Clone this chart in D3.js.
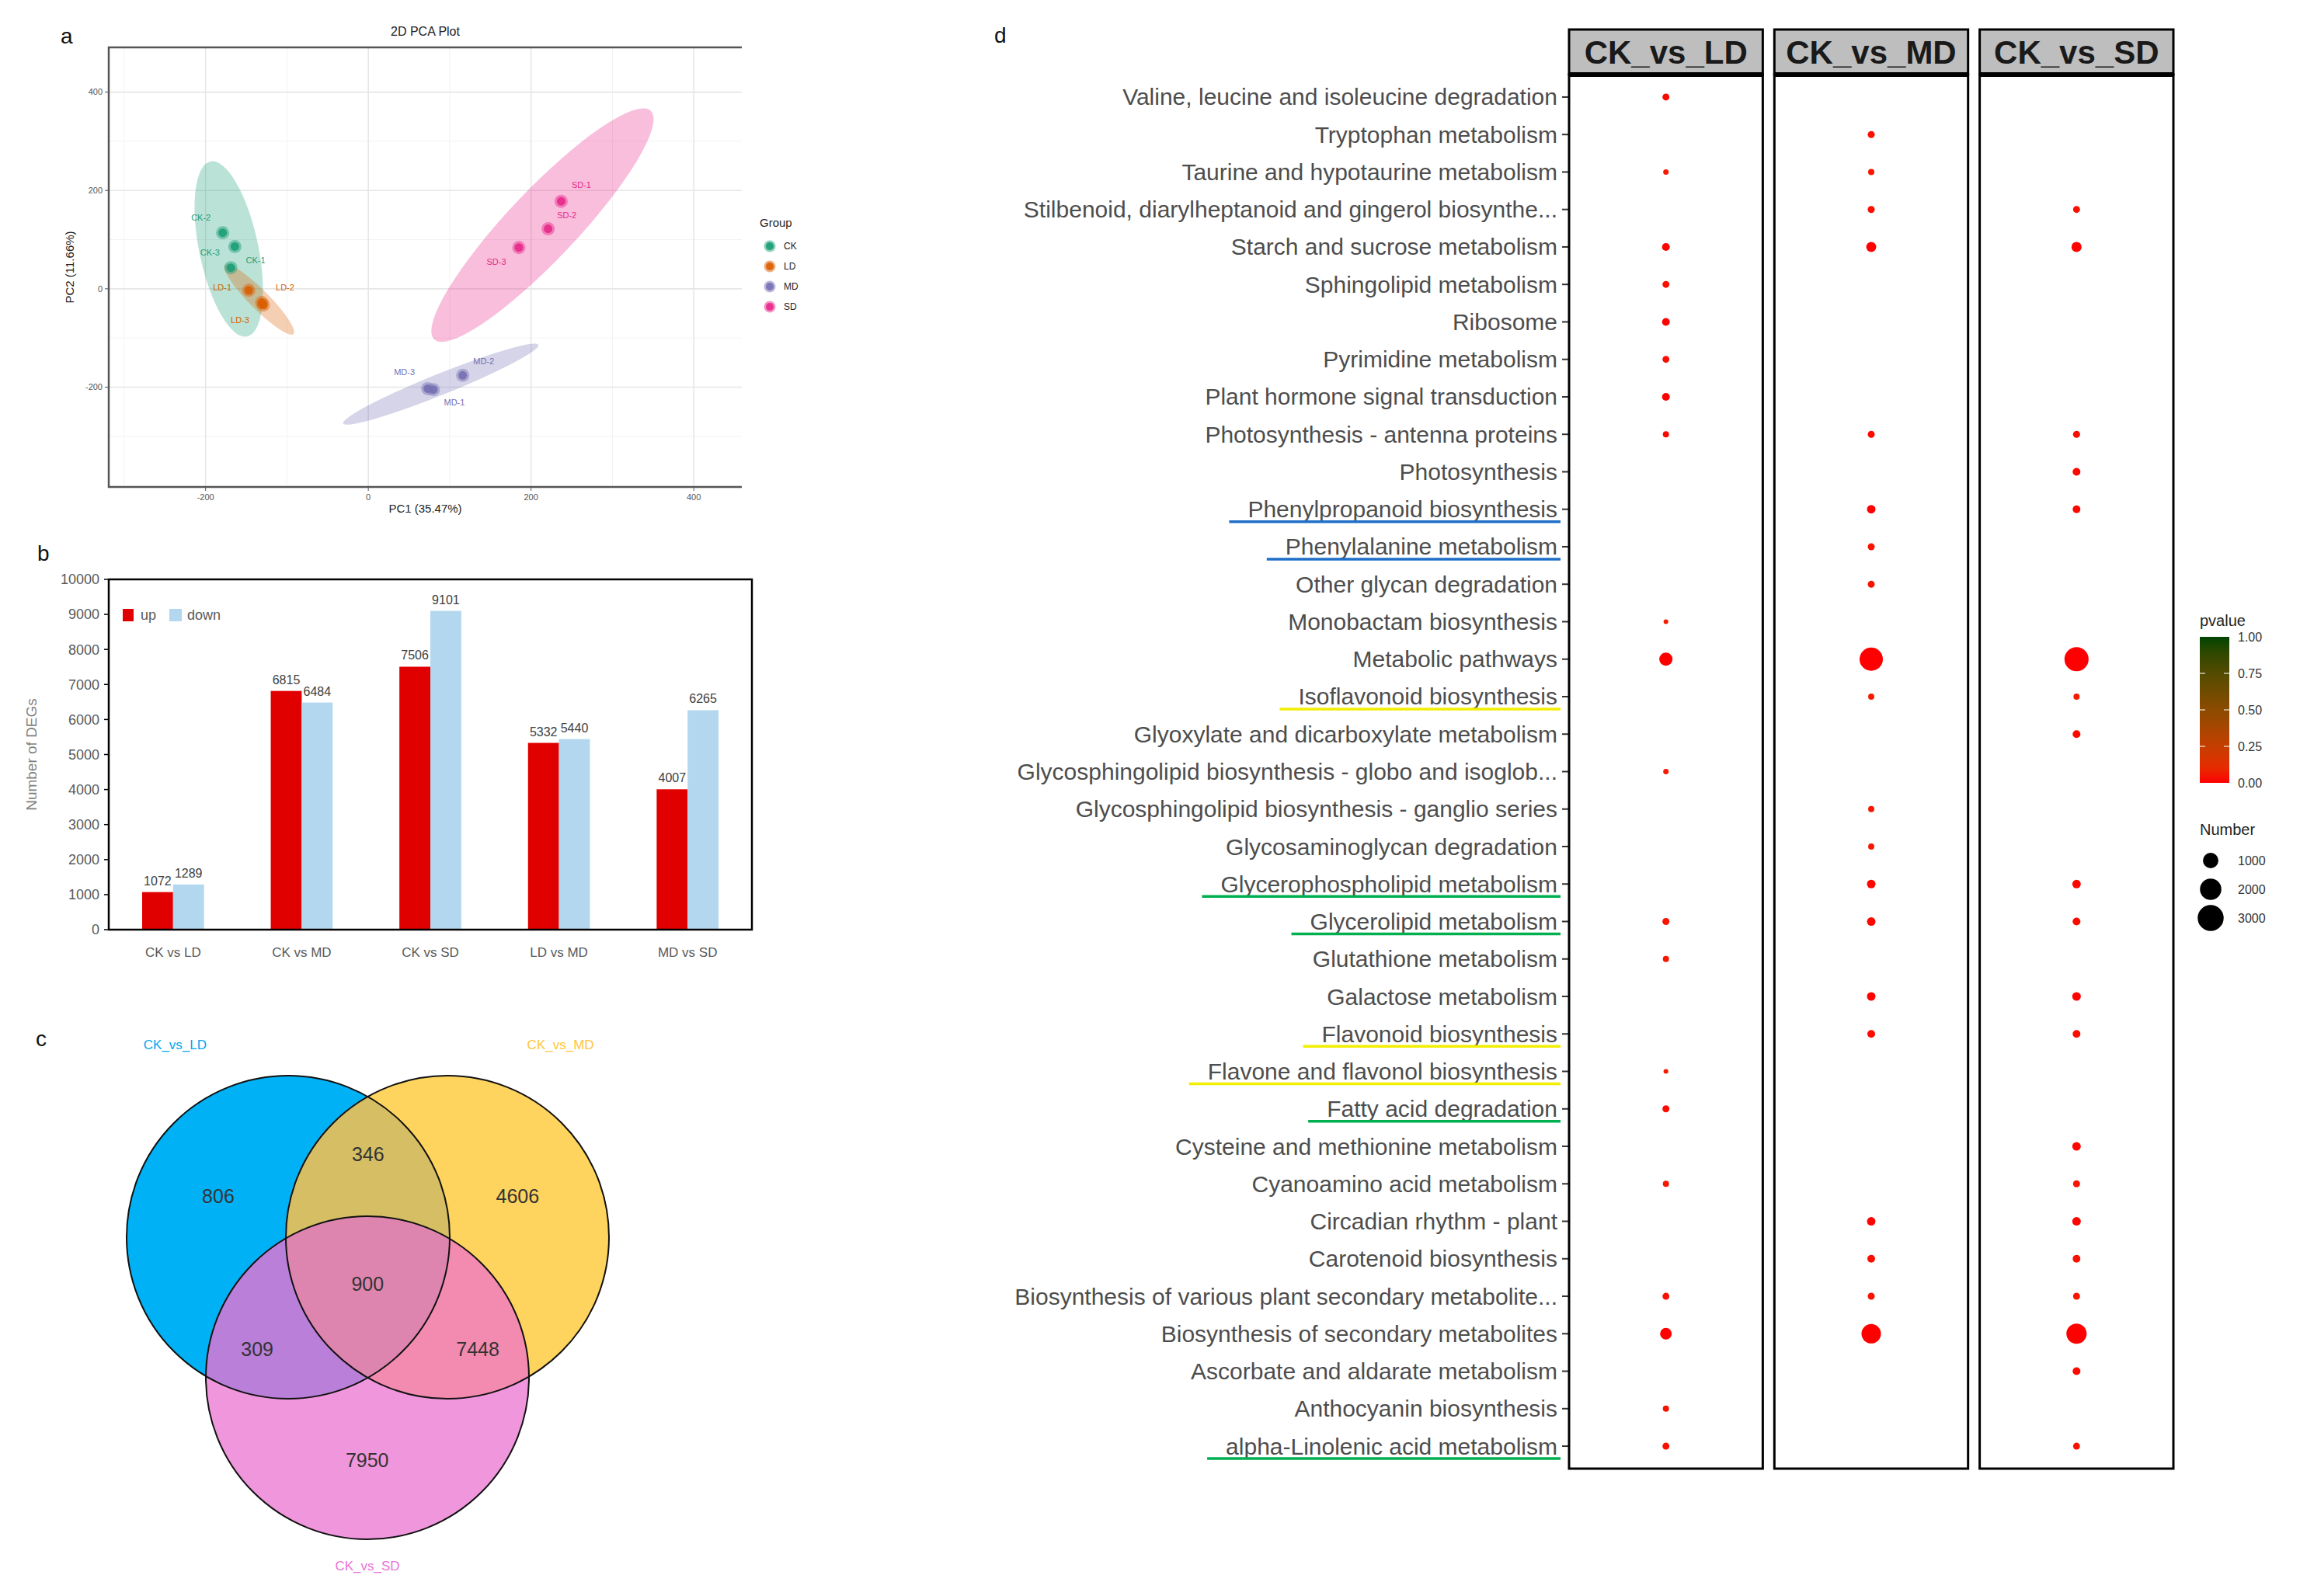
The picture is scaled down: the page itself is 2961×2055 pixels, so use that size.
<!DOCTYPE html>
<html><head><meta charset="utf-8">
<script src="https://cdn.jsdelivr.net/npm/d3@7/dist/d3.min.js"></script>
<style>
body{margin:0;background:#fff}
svg{display:block}
text{font-family:"Liberation Sans",Arial,sans-serif}
</style>
</head><body>
<svg id="chart" width="2961" height="2055"></svg>
<script>
// ================= DATA =================
// Panel a : PCA
const pcaGroups = ["CK", "LD", "MD", "SD"];
const pcaSamples = ["CK-2","CK-3","CK-1","LD-1","LD-2","LD-3","MD-3","MD-1","MD-2","SD-1","SD-2","SD-3"];
const pcaSampleGroup = ["CK","CK","CK","LD","LD","LD","MD","MD","MD","SD","SD","SD"];
const pc1 = [-179, -164, -169, -147, -131, -129, 73, 80, 116, 237, 221, 185];
const pc2 = [114, 86, 43, -3, -28, -33, -203, -205, -176, 178, 122, 84];
// confidence ellipses: major axis end points (data units) and minor/major ratio
const ellStartX = [-194, -176, -31, 81];
const ellStartY = [259, 48, -274, -103];
const ellEndX = [-149, -92, 209, 347];
const ellEndY = [-97, -92, -114, 362];
const ellRatio = [0.33, 0.2, 0.1, 0.22];
const pcaTicks = [-200, 0, 200, 400];
const pcaMinor = [-300, -100, 100, 300];

// Panel b : DEG numbers
const degCategories = ["CK vs LD", "CK vs MD", "CK vs SD", "LD vs MD", "MD vs SD"];
const degUp = [1072, 6815, 7506, 5332, 4007];
const degDown = [1289, 6484, 9101, 5440, 6265];
const degTicks = [0,1000,2000,3000,4000,5000,6000,7000,8000,9000,10000];

// Panel c : Venn
const vennSets = ["CK_vs_LD", "CK_vs_MD", "CK_vs_SD"];
const vennRegions = ["A", "B", "C", "AB", "AC", "BC", "ABC"];
const vennCounts = [806, 4606, 7950, 346, 309, 7448, 900];

// Panel d : KEGG enrichment bubble chart
const comparisons = ["CK_vs_LD", "CK_vs_MD", "CK_vs_SD"];
const keggTerms = [
  "Valine, leucine and isoleucine degradation",
  "Tryptophan metabolism",
  "Taurine and hypotaurine metabolism",
  "Stilbenoid, diarylheptanoid and gingerol biosynthe...",
  "Starch and sucrose metabolism",
  "Sphingolipid metabolism",
  "Ribosome",
  "Pyrimidine metabolism",
  "Plant hormone signal transduction",
  "Photosynthesis - antenna proteins",
  "Photosynthesis",
  "Phenylpropanoid biosynthesis",
  "Phenylalanine metabolism",
  "Other glycan degradation",
  "Monobactam biosynthesis",
  "Metabolic pathways",
  "Isoflavonoid biosynthesis",
  "Glyoxylate and dicarboxylate metabolism",
  "Glycosphingolipid biosynthesis - globo and isoglob...",
  "Glycosphingolipid biosynthesis - ganglio series",
  "Glycosaminoglycan degradation",
  "Glycerophospholipid metabolism",
  "Glycerolipid metabolism",
  "Glutathione metabolism",
  "Galactose metabolism",
  "Flavonoid biosynthesis",
  "Flavone and flavonol biosynthesis",
  "Fatty acid degradation",
  "Cysteine and methionine metabolism",
  "Cyanoamino acid metabolism",
  "Circadian rhythm - plant",
  "Carotenoid biosynthesis",
  "Biosynthesis of various plant secondary metabolite...",
  "Biosynthesis of secondary metabolites",
  "Ascorbate and aldarate metabolism",
  "Anthocyanin biosynthesis",
  "alpha-Linolenic acid metabolism"
];
// gene numbers per comparison (null = not enriched)
const numLD = [131,null,48,null,192,128,181,126,188,84,null,null,null,null,12,712,null,null,45,null,null,null,138,86,null,null,14,133,null,85,null,null,129,534,null,88,131];
const numMD = [null,136,88,139,372,null,null,null,null,131,null,241,132,129,null,2390,84,null,null,86,83,248,243,null,246,187,null,null,null,null,238,183,137,1640,null,null,null];
const numSD = [null,null,null,131,382,null,null,null,null,136,186,184,null,null,null,2570,82,189,null,null,null,241,188,null,251,182,null,null,244,133,247,181,132,1782,188,null,128];
const pLD = [0.012,null,0.041,null,0.003,0.021,0.002,0.018,0.001,0.009,null,null,null,null,0.046,0.000,null,null,0.038,null,null,null,0.027,0.033,null,null,0.044,0.015,null,0.036,null,null,0.024,0.000,null,0.031,0.019];
const pMD = [null,0.022,0.031,0.017,0.001,null,null,null,null,0.011,null,0.002,0.026,0.029,null,0.000,0.043,null,null,0.037,0.035,0.006,0.008,null,0.004,0.013,null,null,null,null,0.005,0.016,0.028,0.000,null,null,null];
const pSD = [null,null,null,0.019,0.001,null,null,null,null,0.014,0.007,0.009,null,null,null,0.000,0.042,0.010,null,null,null,0.006,0.012,null,0.003,0.018,null,null,0.008,0.027,0.005,0.020,0.030,0.000,0.011,null,0.025];
const numberLegend = [1000, 2000, 3000];
const pvalueTicks = [0, 0.25, 0.5, 0.75, 1];
// hand-drawn underline annotations
const markedTerms = ["Phenylpropanoid biosynthesis","Phenylalanine metabolism","Isoflavonoid biosynthesis",
  "Glycerophospholipid metabolism","Glycerolipid metabolism","Flavonoid biosynthesis",
  "Flavone and flavonol biosynthesis","Fatty acid degradation","alpha-Linolenic acid metabolism"];
const markedClass = ["phenyl","phenyl","flav","lipid","lipid","flav","flav","lipid","lipid"];

// ================= DRAW =================
const svg = d3.select("#chart");
svg.append("rect").attr("width",2961).attr("height",2055).attr("fill","#fff");
const defs = svg.append("defs");

function panelLetter(t, x, y){
  svg.append("text").attr("x",x).attr("y",y).attr("font-size",28).attr("fill","#111").text(t);
}

// ---------- Panel a ----------
(function(){
  const L=140,R=955,T=61,B=627;
  const x = d3.scaleLinear().domain([-319,459]).range([L,R]);
  const y = d3.scaleLinear().domain([-403,491]).range([B,T]);
  const col = d3.scaleOrdinal().domain(pcaGroups).range(["#1B9E77","#D95F02","#7570B3","#E7298A"]);
  const g = svg.append("g");
  panelLetter("a", 78, 56);
  pcaMinor.forEach(v=>{
    g.append("line").attr("x1",x(v)).attr("x2",x(v)).attr("y1",T).attr("y2",B).attr("stroke","#f3f3f3").attr("stroke-width",1);
    g.append("line").attr("x1",L).attr("x2",R).attr("y1",y(v)).attr("y2",y(v)).attr("stroke","#f3f3f3").attr("stroke-width",1);
  });
  pcaTicks.forEach(v=>{
    g.append("line").attr("x1",x(v)).attr("x2",x(v)).attr("y1",T).attr("y2",B).attr("stroke","#e6e6e6").attr("stroke-width",1.6);
    g.append("line").attr("x1",L).attr("x2",R).attr("y1",y(v)).attr("y2",y(v)).attr("stroke","#e6e6e6").attr("stroke-width",1.6);
  });
  pcaGroups.forEach((gr,i)=>{
    const x1=x(ellStartX[i]), y1=y(ellStartY[i]), x2=x(ellEndX[i]), y2=y(ellEndY[i]);
    const cx=(x1+x2)/2, cy=(y1+y2)/2;
    const a=Math.hypot(x2-x1,y2-y1)/2, b=a*ellRatio[i];
    const ang=Math.atan2(y2-y1,x2-x1)*180/Math.PI;
    g.append("ellipse").attr("cx",0).attr("cy",0).attr("rx",a).attr("ry",b)
      .attr("transform",`translate(${cx},${cy}) rotate(${ang})`)
      .attr("fill",col(gr)).attr("fill-opacity",0.3);
  });
  g.append("path").attr("d",`M${R},${T}H${L}V${B}H${R}`).attr("fill","none").attr("stroke","#555").attr("stroke-width",2.5);
  pcaTicks.forEach(v=>{
    g.append("line").attr("x1",x(v)).attr("x2",x(v)).attr("y1",B).attr("y2",B+5).attr("stroke","#555");
    g.append("text").attr("x",x(v)).attr("y",B+17).attr("text-anchor","middle").attr("font-size",11).attr("fill","#555").text(v);
    g.append("line").attr("x1",L-5).attr("x2",L).attr("y1",y(v)).attr("y2",y(v)).attr("stroke","#555");
    g.append("text").attr("x",L-8).attr("y",y(v)).attr("dy","0.35em").attr("text-anchor","end").attr("font-size",11).attr("fill","#555").text(v);
  });
  const nudge = {"CK-2":[-28,-20],"CK-3":[-32,8],"CK-1":[32,-9],"LD-1":[-34,-4],"LD-2":[30,-19],"LD-3":[-30,19],
                 "MD-3":[-30,-21],"MD-1":[27,17],"MD-2":[27,-18],"SD-1":[26,-21],"SD-2":[24,-17],"SD-3":[-29,18]};
  pcaSamples.forEach((s,i)=>{
    const px=x(pc1[i]), py=y(pc2[i]), c=col(pcaSampleGroup[i]);
    g.append("circle").attr("cx",px).attr("cy",py).attr("r",8.5).attr("fill",c).attr("fill-opacity",0.45);
    g.append("circle").attr("cx",px).attr("cy",py).attr("r",5.5).attr("fill",c).attr("fill-opacity",0.9);
    const n=nudge[s];
    g.append("text").attr("x",px+n[0]).attr("y",py+n[1]).attr("dy","0.35em").attr("text-anchor","middle")
      .attr("font-size",11).attr("fill",c).text(s);
  });
  g.append("text").attr("x",(L+R)/2).attr("y",46).attr("text-anchor","middle").attr("font-size",16).attr("fill","#222").text("2D PCA Plot");
  g.append("text").attr("x",(L+R)/2).attr("y",660).attr("text-anchor","middle").attr("font-size",15).attr("fill","#222").text("PC1 (35.47%)");
  g.append("text").attr("transform",`translate(95,${(T+B)/2}) rotate(-90)`).attr("text-anchor","middle").attr("font-size",15).attr("fill","#222").text("PC2 (11.66%)");
  g.append("text").attr("x",978).attr("y",292).attr("font-size",15).attr("fill","#222").text("Group");
  pcaGroups.forEach((gr,i)=>{
    const ly=317+i*26;
    g.append("circle").attr("cx",991).attr("cy",ly).attr("r",7.5).attr("fill",col(gr)).attr("fill-opacity",0.5);
    g.append("circle").attr("cx",991).attr("cy",ly).attr("r",5).attr("fill",col(gr)).attr("fill-opacity",0.9);
    g.append("text").attr("x",1009).attr("y",ly).attr("dy","0.35em").attr("font-size",12).attr("fill","#222").text(gr);
  });
})();

// ---------- Panel b ----------
(function(){
  const L=140,R=968,T=746,B=1197;
  const g = svg.append("g");
  panelLetter("b", 48, 722);
  const x = d3.scaleBand().domain(degCategories).range([L,R]).paddingInner(0.519).paddingOuter(0.2595);
  const sub = d3.scaleBand().domain(["up","down"]).range([0,x.bandwidth()]);
  const y = d3.scaleLinear().domain([0,10000]).range([B,T]);
  const colors = {up:"#E00000", down:"#B3D7EE"};
  degCategories.forEach((c,i)=>{
    [["up",degUp[i]],["down",degDown[i]]].forEach(([k,v])=>{
      const bx = x(c)+sub(k);
      g.append("rect").attr("x",bx).attr("y",y(v)).attr("width",sub.bandwidth()).attr("height",B-y(v)).attr("fill",colors[k]);
      g.append("text").attr("x",bx+sub.bandwidth()/2).attr("y",y(v)-9).attr("text-anchor","middle")
        .attr("font-size",16).attr("fill","#404040").text(v);
    });
    g.append("text").attr("x",x(c)+x.bandwidth()/2).attr("y",1232).attr("text-anchor","middle").attr("font-size",17).attr("fill","#595959").text(c);
  });
  g.append("rect").attr("x",L).attr("y",T).attr("width",R-L).attr("height",B-T).attr("fill","none").attr("stroke","#000").attr("stroke-width",2.5);
  degTicks.forEach(v=>{
    g.append("line").attr("x1",L-6).attr("x2",L).attr("y1",y(v)).attr("y2",y(v)).attr("stroke","#000").attr("stroke-width",1.5);
    g.append("text").attr("x",L-12).attr("y",y(v)).attr("dy","0.35em").attr("text-anchor","end").attr("font-size",18).attr("fill","#595959").text(v);
  });
  g.append("text").attr("transform",`translate(47,${(T+B)/2}) rotate(-90)`).attr("text-anchor","middle").attr("font-size",19).attr("fill","#7f7f7f").text("Number of DEGs");
  g.append("rect").attr("x",158).attr("y",784).attr("width",14).attr("height",16).attr("fill",colors.up);
  g.append("text").attr("x",181).attr("y",792).attr("dy","0.35em").attr("font-size",18).attr("fill","#595959").text("up");
  g.append("rect").attr("x",218).attr("y",784).attr("width",16).attr("height",16).attr("fill",colors.down);
  g.append("text").attr("x",241).attr("y",792).attr("dy","0.35em").attr("font-size",18).attr("fill","#595959").text("down");
})();

// ---------- Panel c ----------
(function(){
  const g = svg.append("g");
  panelLetter("c", 46, 1347);
  const r = 208;
  const C = {A:[371,1593], B:[576,1593], C:[473,1774]};
  const setKeys = ["A","B","C"];
  const regionColor = {A:"#00B2F5", B:"#FED45F", C:"#F096DD", AB:"#D5BE63", AC:"#BA7FD9", BC:"#F38BB1", ABC:"#DE85AF"};
  setKeys.forEach(k=>{
    defs.append("clipPath").attr("id","clip"+k).append("circle").attr("cx",C[k][0]).attr("cy",C[k][1]).attr("r",r);
  });
  function mask(id, excl){
    const m = defs.append("mask").attr("id",id).attr("maskUnits","userSpaceOnUse").attr("x",0).attr("y",0).attr("width",2961).attr("height",2055);
    m.append("rect").attr("width",2961).attr("height",2055).attr("fill","#fff");
    excl.forEach(k=>m.append("circle").attr("cx",C[k][0]).attr("cy",C[k][1]).attr("r",r).attr("fill","#000"));
    return "url(#"+id+")";
  }
  const circ = (sel,k)=>sel.append("circle").attr("cx",C[k][0]).attr("cy",C[k][1]).attr("r",r);
  circ(g,"A").attr("fill",regionColor.A).attr("mask",mask("mNotBC",["B","C"]));
  circ(g,"B").attr("fill",regionColor.B).attr("mask",mask("mNotAC",["A","C"]));
  circ(g,"C").attr("fill",regionColor.C).attr("mask",mask("mNotAB",["A","B"]));
  const gAB = g.append("g").attr("mask",mask("mNotC",["C"]));
  circ(gAB,"A").attr("fill",regionColor.AB).attr("clip-path","url(#clipB)");
  const gAC = g.append("g").attr("mask",mask("mNotB",["B"]));
  circ(gAC,"A").attr("fill",regionColor.AC).attr("clip-path","url(#clipC)");
  const gBC = g.append("g").attr("mask",mask("mNotA",["A"]));
  circ(gBC,"B").attr("fill",regionColor.BC).attr("clip-path","url(#clipC)");
  const gABC = g.append("g").attr("clip-path","url(#clipC)");
  circ(gABC,"A").attr("fill",regionColor.ABC).attr("clip-path","url(#clipB)");
  setKeys.forEach(k=>circ(g,k).attr("fill","none").attr("stroke","#111").attr("stroke-width",2));
  const G = [(C.A[0]+C.B[0]+C.C[0])/3,(C.A[1]+C.B[1]+C.C[1])/3];
  vennRegions.forEach((reg,i)=>{
    const ks = reg.split("");
    const m = [d3.mean(ks,k=>C[k][0]), d3.mean(ks,k=>C[k][1])];
    const f = ks.length===1?1.88:(ks.length===2?2.77:0);
    const px = G[0]+f*(m[0]-G[0]), py = G[1]+f*(m[1]-G[1]);
    g.append("text").attr("x",px).attr("y",py).attr("dy","0.36em").attr("text-anchor","middle")
      .attr("font-size",25).attr("fill","#333").text(vennCounts[i]);
  });
  const nameColor = ["#00A8EE","#FFC53A","#E872D8"];
  g.append("text").attr("x",C.A[0]-0.7*r).attr("y",C.A[1]-r-40).attr("dy","0.35em").attr("text-anchor","middle").attr("font-size",17).attr("fill",nameColor[0]).text(vennSets[0]);
  g.append("text").attr("x",C.B[0]+0.7*r).attr("y",C.B[1]-r-40).attr("dy","0.35em").attr("text-anchor","middle").attr("font-size",17).attr("fill",nameColor[1]).text(vennSets[1]);
  g.append("text").attr("x",C.C[0]).attr("y",C.C[1]+r+34).attr("dy","0.35em").attr("text-anchor","middle").attr("font-size",17).attr("fill",nameColor[2]).text(vennSets[2]);
})();

// ---------- Panel d ----------
(function(){
  const g = svg.append("g");
  panelLetter("d", 1280, 55);
  const T=96, B=1891, stripT=38;
  const fx = d3.scaleBand().domain(comparisons).range([2020,2798]).paddingInner(0.0565).paddingOuter(0);
  const y = d3.scalePoint().domain(keggTerms).range([T,B]).padding(0.6);
  const color = d3.scaleLinear().domain([0,1]).range(["#FF0000","#004400"]).interpolate(d3.interpolateLab);
  const numMax = 3100;
  const area = d3.scaleLinear().domain([0,numMax]).range([2.85*2.85, 17*17]);
  const rad = v => Math.sqrt(area(v));
  const nums = [numLD,numMD,numSD], pv=[pLD,pMD,pSD];
  const labelX = 2005;
  const labelNodes = {};
  keggTerms.forEach(t=>{
    labelNodes[t] = g.append("text").attr("x",labelX).attr("y",y(t)).attr("dy","0.35em").attr("text-anchor","end")
      .attr("font-size",30).attr("fill","#4d4d4d").text(t);
    g.append("line").attr("x1",2011).attr("x2",2019).attr("y1",y(t)).attr("y2",y(t)).attr("stroke","#333").attr("stroke-width",2);
  });
  const markColor = {phenyl:"#1F6FC8", flav:"#F2EE00", lipid:"#00B050"};
  markedTerms.forEach((t,i)=>{
    const bb = labelNodes[t].node().getBBox();
    g.append("line").attr("x1",bb.x-24).attr("x2",2009).attr("y1",y(t)+16).attr("y2",y(t)+16)
      .attr("stroke",markColor[markedClass[i]]).attr("stroke-width",3.5);
  });
  comparisons.forEach((c,j)=>{
    const x0 = fx(c), w = fx.bandwidth();
    g.append("rect").attr("x",x0).attr("y",stripT).attr("width",w).attr("height",T-stripT).attr("fill","#BEBEBE").attr("stroke","#000").attr("stroke-width",3);
    g.append("text").attr("x",x0+w/2).attr("y",(stripT+T)/2).attr("dy","0.36em").attr("text-anchor","middle")
      .attr("font-size",42).attr("font-weight","bold").attr("fill","#1a1a1a").text(c);
    g.append("rect").attr("x",x0).attr("y",T).attr("width",w).attr("height",B-T).attr("fill","#fff").attr("stroke","#000").attr("stroke-width",3);
    g.append("line").attr("x1",x0).attr("x2",x0+w).attr("y1",T).attr("y2",T).attr("stroke","#000").attr("stroke-width",6);
    keggTerms.forEach((t,i)=>{
      const v = nums[j][i];
      if(v==null) return;
      g.append("circle").attr("cx",x0+w/2).attr("cy",y(t)).attr("r",rad(v)).attr("fill",color(pv[j][i]));
    });
  });
  const lx = 2832;
  g.append("text").attr("x",lx).attr("y",806).attr("font-size",20).attr("fill","#222").text("pvalue");
  const grad = defs.append("linearGradient").attr("id","pgrad").attr("x1",0).attr("y1",1).attr("x2",0).attr("y2",0);
  d3.range(0,1.0001,0.1).forEach(t=>grad.append("stop").attr("offset",t).attr("stop-color",color(t)));
  const cbT=820, cbB=1008, cbW=38;
  const cy = d3.scaleLinear().domain([0,1]).range([cbB,cbT]);
  g.append("rect").attr("x",lx).attr("y",cbT).attr("width",cbW).attr("height",cbB-cbT).attr("fill","url(#pgrad)");
  pvalueTicks.forEach(v=>{
    if(v>0 && v<1){
      g.append("line").attr("x1",lx).attr("x2",lx+7).attr("y1",cy(v)).attr("y2",cy(v)).attr("stroke","#fff").attr("stroke-opacity",0.7).attr("stroke-width",1.5);
      g.append("line").attr("x1",lx+cbW-7).attr("x2",lx+cbW).attr("y1",cy(v)).attr("y2",cy(v)).attr("stroke","#fff").attr("stroke-opacity",0.7).attr("stroke-width",1.5);
    }
    g.append("text").attr("x",lx+cbW+11).attr("y",cy(v)).attr("dy","0.35em").attr("font-size",16).attr("fill","#333").text(v.toFixed(2));
  });
  g.append("text").attr("x",lx).attr("y",1075).attr("font-size",20).attr("fill","#222").text("Number");
  numberLegend.forEach((v,i)=>{
    const ly = 1108+i*37;
    g.append("circle").attr("cx",lx+14).attr("cy",ly).attr("r",rad(v)).attr("fill","#000");
    g.append("text").attr("x",lx+cbW+11).attr("y",ly).attr("dy","0.35em").attr("font-size",16).attr("fill","#333").text(v);
  });
})();
</script>
</body></html>
